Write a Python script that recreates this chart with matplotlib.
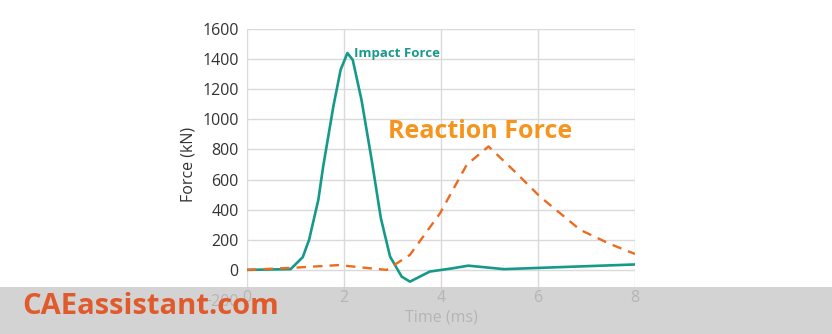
import matplotlib.pyplot as plt
from matplotlib.patches import Rectangle

# impact force (teal, solid)
impact_t = [0, 0.9, 1.15, 1.28, 1.47, 1.57, 1.78, 1.93, 2.07, 2.18, 2.36, 2.57,
            2.76, 2.95, 3.19, 3.36, 3.77, 4.25, 4.56, 5.3, 8.0]
impact_f = [0, 5, 85, 200, 465, 686, 1085, 1329, 1440, 1395, 1130, 731,
            343, 88, -45, -78, -11, 11, 28, 5, 36]

# reaction force (orange, dashed)
react_t = [0, 1.0, 1.9, 2.4, 2.88, 3.36, 3.98, 4.53, 4.98, 5.5, 6.04, 6.87, 7.5, 8.0]
react_f = [0, 15, 32, 15, 0, 100, 376, 698, 820, 660, 487, 266, 170, 106]

xticks = [0, 2, 4, 6, 8]
yticks = [-200, 0, 200, 400, 600, 800, 1000, 1200, 1400, 1600]

plt.rcParams['font.family'] = ['Open Sans', 'DejaVu Sans']

fig = plt.figure(figsize=(8.32, 3.34), dpi=100)
ax = fig.add_axes([0.2969, 0.1018, 0.4663, 0.8114])

ax.plot(impact_t, impact_f, color="#14998a", linewidth=1.9, zorder=3)
ax.plot(react_t, react_f, color="#ec6c1f", linewidth=1.7, dashes=(4, 3), zorder=3)

ax.set_xlim(0, 8)
ax.set_ylim(-200, 1600)
ax.set_xticks(xticks)
ax.set_yticks(yticks)
ax.tick_params(length=0, labelsize=11.5, colors="#333333", pad=6)
ax.tick_params(axis="x", pad=-7.5)
ax.grid(True, color="#dadada", linewidth=1)
for s in ax.spines.values():
    s.set_visible(False)

ax.set_ylabel("Force (kN)", fontsize=11.5, color="#333333", labelpad=4)
fig.text(0.5 * (0.2969 + 0.7632), 1 - 318 / 334, "Time (ms)", fontsize=11.5,
         color="#333333", ha="center", va="center")

ax.text(2.2, 1440, "Impact Force", color="#1a9a8c", fontsize=9.5,
        fontweight="bold", va="center", ha="left")
ax.text(2.9, 920, "Reaction Force", color="#f7941e", fontsize=18,
        fontweight="bold", va="center", ha="left")

# watermark band
fig.patches.append(Rectangle((0, 0), 1, 47 / 334, transform=fig.transFigure,
                             facecolor="#cccccc", alpha=0.85, zorder=10))
fig.text(22 / 832, 1 - 307 / 334, "CAEassistant.com", color="#e05a2b",
         fontsize=21, fontweight="bold", va="center", ha="left", zorder=11)

fig.savefig("out.png", dpi=100)
